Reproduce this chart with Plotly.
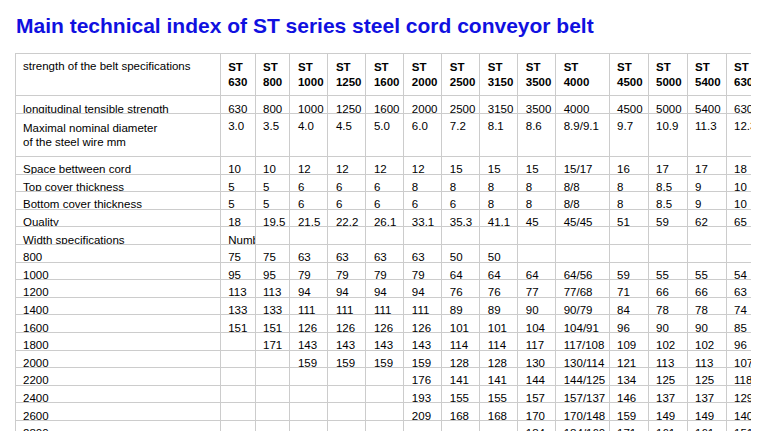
import plotly.graph_objects as go

NB = "\u00a0"
specs = ["ST<br>630","ST<br>800","ST<br>1000","ST<br>1250","ST<br>1600","ST<br>2000","ST<br>2500",
         "ST<br>3150","ST<br>3500","ST<br>4000","ST<br>4500","ST<br>5000","ST<br>5400","ST<br>6300"]
tensile = ["630","800","1000","1250","1600","2000","2500","3150","3500","4000","4500","5000","5400","6300"]
diameter = ["3.0","3.5","4.0","4.5","5.0","6.0","7.2","8.1","8.6","8.9/9.1","9.7","10.9","11.3","12.3"]
spacing = ["10","10","12","12","12","12","15","15","15","15/17","16","17","17","18"]
top_cover = ["5","5","6","6","6","8","8","8","8","8/8","8","8.5","9","10"]
bottom_cover = ["5","5","6","6","6","6","6","8","8","8/8","8","8.5","9","10"]
quality = ["18","19.5","21.5","22.2","26.1","33.1","35.3","41.1","45","45/45","51","59","62","65"]
widths = ["800","1000","1200","1400","1600","1800","2000","2200","2400","2600","2800"]
cords = [
    ["75","75","63","63","63","63","50","50","","","","","",""],
    ["95","95","79","79","79","79","64","64","64","64/56","59","55","55","54"],
    ["113","113","94","94","94","94","76","76","77","77/68","71","66","66","63"],
    ["133","133","111","111","111","111","89","89","90","90/79","84","78","78","74"],
    ["151","151","126","126","126","126","101","101","104","104/91","96","90","90","85"],
    ["","171","143","143","143","143","114","114","117","117/108","109","102","102","96"],
    ["","","159","159","159","159","128","128","130","130/114","121","113","113","107"],
    ["","","","","","176","141","141","144","144/125","134","125","125","118"],
    ["","","","","","193","155","155","157","157/137","146","137","137","129"],
    ["","","","","","209","168","168","170","170/148","159","149","149","140"],
    ["","","","","","","","","184","184/160","171","161","161","151"],
]

def nb(s):
    return s.replace(" ", NB)

row_labels = [nb("longitudinal tensible strength"),
              nb("Maximal nominal diameter") + "<br>" + nb("of the steel wire mm"),
              nb("Space bettween cord"), nb("Top cover thickness"), nb("Bottom cover thickness"),
              "Quality", nb("Width specifications")] + widths
rows = [tensile, diameter, spacing, top_cover, bottom_cover, quality,
        [nb("Number of steel cords")] + [""] * 13] + cords
cols = [row_labels] + [[r[i] for r in rows] for i in range(len(specs))]
header = [nb("strength of the belt specifications")] + ["<b>%s</b>" % s for s in specs]
colw = [200, 34, 34, 37, 37, 37, 37, 37, 37, 37, 52, 38, 38, 38, 38]

W, H = 759, 431
font = dict(family="Liberation Sans", size=11.5, color="black")
fig = go.Figure(go.Table(
    columnwidth=colw,
    domain=dict(x=[7 / W, 757 / W], y=[0, 1 - 45 / H]),
    header=dict(values=header, align="left", height=34, font=font,
                fill_color="white", line_color="#cccccc"),
    cells=dict(values=cols, align="left", height=17.6, font=font,
               fill_color="white", line_color="#cccccc"),
))
fig.update_layout(
    width=W, height=H, margin=dict(l=0, r=0, t=0, b=0),
    paper_bgcolor="white",
    title=dict(text="<b>Main technical index of ST series steel cord conveyor belt</b>",
               x=8 / W, xanchor="left", y=1 - 18 / H, yanchor="middle",
               font=dict(family="Liberation Sans", size=21, color="#1010e0")),
)
fig.write_html("out.html")
